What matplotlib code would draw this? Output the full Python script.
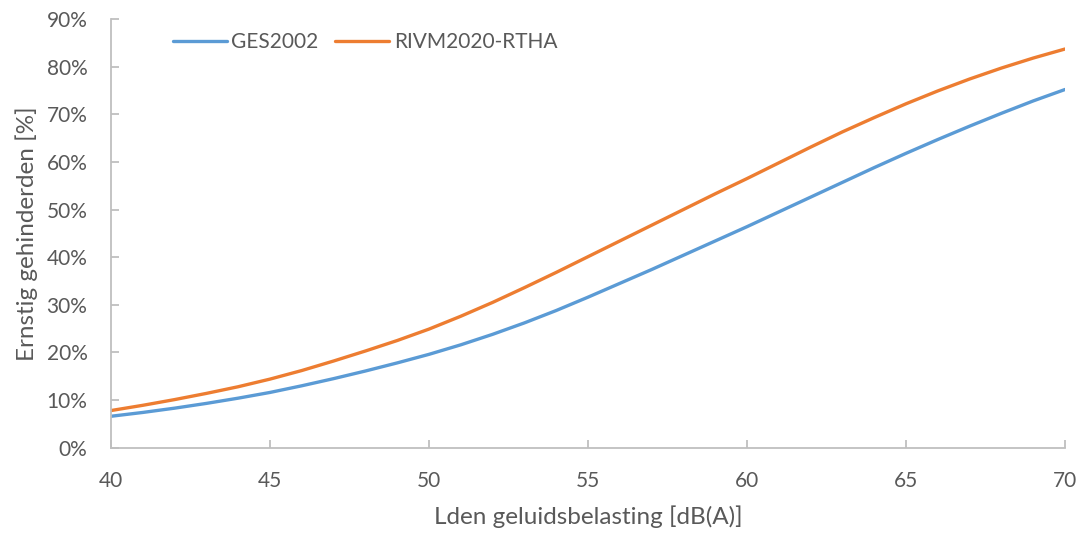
import matplotlib
matplotlib.use("Agg")
import matplotlib.pyplot as plt
from matplotlib.ticker import PercentFormatter

# Lden [dB(A)] and percentage highly annoyed
lden = [40, 41, 42, 43, 44, 45, 46, 47, 48, 49, 50, 51, 52, 53, 54, 55,
        56, 57, 58, 59, 60, 61, 62, 63, 64, 65, 66, 67, 68, 69, 70]
ges2002 = [6.6, 7.4, 8.3, 9.3, 10.4, 11.6, 13.0, 14.5, 16.1, 17.8, 19.6,
           21.6, 23.8, 26.2, 28.8, 31.6, 34.5, 37.4, 40.4, 43.4, 46.4,
           49.5, 52.6, 55.7, 58.8, 61.8, 64.7, 67.5, 70.2, 72.8, 75.2]
rivm2020 = [7.8, 8.9, 10.1, 11.4, 12.8, 14.4, 16.2, 18.2, 20.3, 22.5, 24.9,
            27.6, 30.5, 33.6, 36.8, 40.1, 43.4, 46.7, 50.0, 53.3, 56.5,
            59.8, 63.1, 66.3, 69.3, 72.2, 74.9, 77.4, 79.7, 81.8, 83.7]

BLUE = "#5B9BD5"
ORANGE = "#ED7D31"
TEXT = "#595959"
AXIS = "#BFBFBF"

plt.rcParams['font.family'] = ['Lato', 'DejaVu Sans']

fig = plt.figure(figsize=(10.83, 5.34), dpi=100)
# axes box in pixels: x 111..1065, y 19..448 (from top)
ax = fig.add_axes([111 / 1083, 1 - 447.7 / 534, 954 / 1083, 428.7 / 534])

ax.plot(lden, ges2002, color=BLUE, linewidth=2.4, label="GES2002", solid_capstyle='round')
ax.plot(lden, rivm2020, color=ORANGE, linewidth=2.4, label="RIVM2020-RTHA", solid_capstyle='round')

ax.set_xlim(40, 70)
ax.set_ylim(0, 90)
ax.set_xticks(range(40, 71, 5))
ax.set_yticks(range(0, 91, 10))
ax.yaxis.set_major_formatter(PercentFormatter(decimals=0))

for side in ("top", "right"):
    ax.spines[side].set_visible(False)
for side in ("left", "bottom"):
    ax.spines[side].set_color(AXIS)
    ax.spines[side].set_linewidth(1.3)

ax.tick_params(direction='in', length=5.5, width=1.3, color=AXIS,
               labelcolor=TEXT, labelsize=15)
ax.tick_params(axis='x', pad=17)
ax.tick_params(axis='y', pad=17)

ax.set_xlabel("Lden geluidsbelasting [dB(A)]", fontsize=17.5, color=TEXT, labelpad=10)
ax.set_ylabel("Ernstig gehinderden [%]", fontsize=17.5, color=TEXT, labelpad=6)

ax.legend(loc='center left', bbox_to_anchor=(0.0563, (447.7 - 42) / 428.7), ncol=2,
          frameon=False, borderaxespad=0, fontsize=15, labelcolor=TEXT,
          handlelength=2.6, handletextpad=0.2, columnspacing=0.8)

fig.savefig("out.png", dpi=100, facecolor="white")
